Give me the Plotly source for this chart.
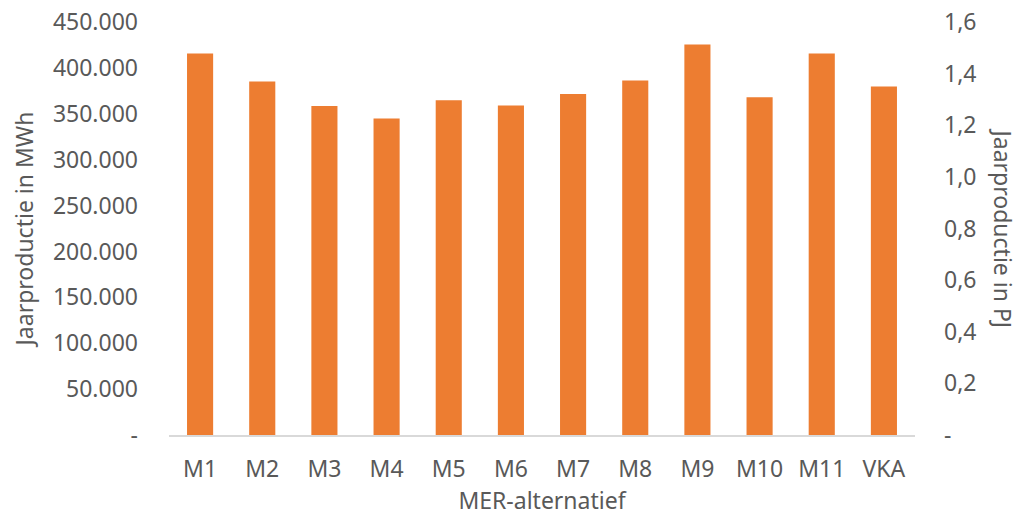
import plotly.graph_objects as go

categories = ["M1", "M2", "M3", "M4", "M5", "M6", "M7", "M8", "M9", "M10", "M11", "VKA"]
jaarproductie_mwh = [415600, 385100, 358500, 344800, 364800, 359000, 371600, 386200, 425400, 368000, 415600, 379700]
mwh_to_pj = 3.6e-6

left_tickvals = [0, 50000, 100000, 150000, 200000, 250000, 300000, 350000, 400000, 450000]
left_ticktext = ["-", "50.000", "100.000", "150.000", "200.000", "250.000", "300.000", "350.000", "400.000", "450.000"]
right_tickvals = [0, 0.2, 0.4, 0.6, 0.8, 1.0, 1.2, 1.4, 1.6]
right_ticktext = ["-", "0,2", "0,4", "0,6", "0,8", "1,0", "1,2", "1,4", "1,6"]

FONT = "Noto Sans"
GREY = "#595959"
FS = 23

fig = go.Figure()
fig.add_trace(go.Bar(
    x=categories, y=jaarproductie_mwh,
    marker=dict(color="#ED7D31", line=dict(width=0)),
    showlegend=False, yaxis="y",
))
# invisible companion trace so the secondary (PJ) axis is rendered
fig.add_trace(go.Scatter(
    x=categories, y=[v * mwh_to_pj for v in jaarproductie_mwh],
    mode="markers", marker=dict(opacity=0, size=1), hoverinfo="skip",
    showlegend=False, yaxis="y2",
))

fig.update_layout(
    width=1027, height=517,
    margin=dict(l=169, r=112, t=22, b=82),
    paper_bgcolor="white", plot_bgcolor="white",
    bargap=0.58,
    font=dict(family=FONT, size=FS, color=GREY),
    xaxis=dict(
        automargin=False,
        range=[-0.5, len(categories) - 0.5],
        showgrid=False, showline=True, linecolor="#d9d9d9", linewidth=2,
        ticks="", ticklabelstandoff=12,
        tickfont=dict(size=FS, color=GREY),
        title=dict(text="MER-alternatief", font=dict(size=FS, color=GREY), standoff=8),
    ),
    yaxis=dict(
        automargin=False,
        range=[0, 450000], showgrid=False, zeroline=False, showline=False,
        tickvals=left_tickvals, ticktext=left_ticktext, ticks="",
        ticklabelstandoff=30,
        tickfont=dict(size=FS, color=GREY),
        title=dict(text="Jaarproductie in MWh", font=dict(size=FS, color=GREY), standoff=12),
    ),
    yaxis2=dict(
        automargin=False,
        range=[0, 1.6], overlaying="y", side="right", showgrid=False, zeroline=False,
        showline=False, tickvals=right_tickvals, ticktext=right_ticktext, ticks="",
        ticklabelstandoff=28,
        tickfont=dict(size=FS, color=GREY),
    ),
    annotations=[dict(
        text="Jaarproductie in PJ", textangle=90,
        xref="paper", yref="paper", x=1, y=0.5, xanchor="center", yanchor="middle",
        xshift=88, showarrow=False, font=dict(size=FS, color=GREY),
    )],
)

fig.write_html("out.html")
